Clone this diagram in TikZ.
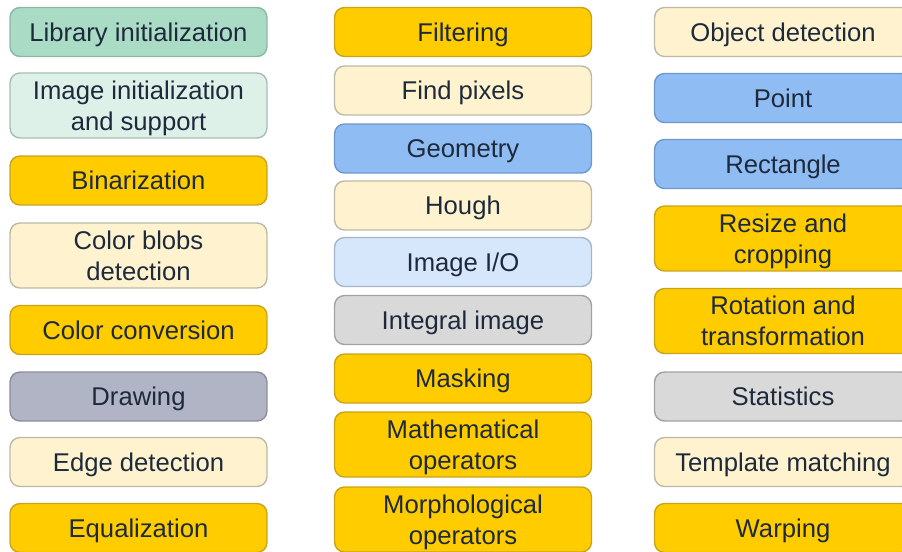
\documentclass[tikz,border=0pt]{standalone}
\usepackage{fontspec}
\setmainfont{Liberation Sans}
\definecolor{ink}{HTML}{1E2A3C}
\definecolor{gold}{HTML}{FFCC00}
\definecolor{goldline}{HTML}{C9A41A}
\definecolor{cream}{HTML}{FFF3CF}
\definecolor{creamline}{HTML}{BDB9A6}
\definecolor{skyblue}{HTML}{8FBDF3}
\definecolor{skyline}{HTML}{6C98CF}
\definecolor{paleblue}{HTML}{D7E7FB}
\definecolor{paleline}{HTML}{A6B6CA}
\definecolor{lightgray}{HTML}{D9D9D9}
\definecolor{grayline}{HTML}{A2A2A2}
\definecolor{slate}{HTML}{B1B4C4}
\definecolor{slateline}{HTML}{8A8D9C}
\definecolor{mint}{HTML}{AADCC5}
\definecolor{mintline}{HTML}{8DB6A4}
\definecolor{palemint}{HTML}{DEF1E8}
\definecolor{palemintline}{HTML}{A7BDB3}
\begin{document}
\begin{tikzpicture}[x=0.02cm, y=-0.02cm,
    every node/.style={font=\fontsize{14.6}{17.6}\selectfont, text=ink, align=center, text depth=0pt},
    box/.style={draw, rounded corners=0.2cm, line width=0.8pt, minimum width=5.14cm, minimum height=0.98cm, inner sep=0pt},
    tall/.style={minimum height=1.3cm},
    goldbox/.style={box, fill=gold, draw=goldline},
    creambox/.style={box, fill=cream, draw=creamline},
    bluebox/.style={box, fill=skyblue, draw=skyline},
    palebluebox/.style={box, fill=paleblue, draw=paleline},
    graybox/.style={box, fill=lightgray, draw=grayline},
    slatebox/.style={box, fill=slate, draw=slateline},
    mintbox/.style={box, fill=mint, draw=mintline},
    palemintbox/.style={box, fill=palemint, draw=palemintline}]
	\useasboundingbox (0,0) rectangle (902,551);
	
	% 左列
	\node[mintbox] (libinit) at (138.5,32) {Library initialization};
	\node[palemintbox, tall] (imginit) at (138.5,105.5) {Image initialization\\and support};
	\node[goldbox] (binar) at (138.5,180.5) {Binarization};
	\node[creambox, tall] (blobs) at (138.5,255.5) {Color blobs\\detection};
	\node[goldbox] (colconv) at (138.5,330) {Color conversion};
	\node[slatebox] (drawing) at (138.5,396.5) {Drawing};
	\node[creambox] (edge) at (138.5,462) {Edge detection};
	\node[goldbox] (equal) at (138.5,528) {Equalization};
	
	% 中列
	\node[goldbox] (filter) at (463,32) {Filtering};
	\node[creambox] (findpix) at (463,90.5) {Find pixels};
	\node[bluebox] (geom) at (463,148.5) {Geometry};
	\node[creambox] (hough) at (463,205.5) {Hough};
	\node[palebluebox] (imgio) at (463,262) {Image I/O};
	\node[graybox] (integral) at (463,320) {Integral image};
	\node[goldbox] (masking) at (463,378.5) {Masking};
	\node[goldbox, tall] (mathop) at (463,444.5) {Mathematical\\operators};
	\node[goldbox, tall] (morph) at (463,519.5) {Morphological\\operators};
	
	% 右列
	\node[creambox] (objdet) at (783,32) {Object detection};
	\node[bluebox] (point) at (783,98) {Point};
	\node[bluebox] (rect) at (783,164) {Rectangle};
	\node[goldbox, tall] (resize) at (783,238.5) {Resize and\\cropping};
	\node[goldbox, tall] (rotation) at (783,321) {Rotation and\\transformation};
	\node[graybox] (stats) at (783,396.5) {Statistics};
	\node[creambox] (templ) at (783,462) {Template matching};
	\node[goldbox] (warp) at (783,528) {Warping};
\end{tikzpicture}
\end{document}
